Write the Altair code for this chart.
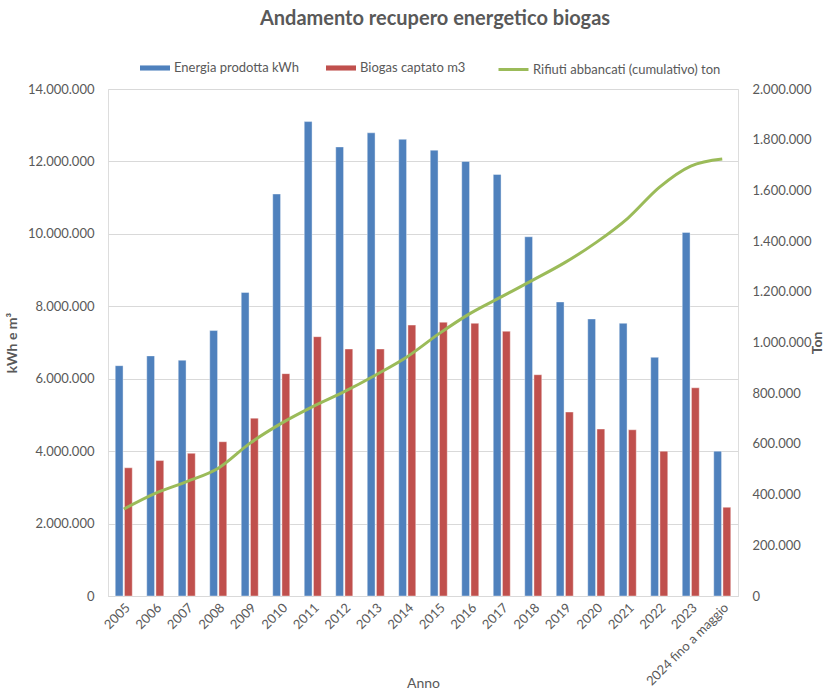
import altair as alt
import pandas as pd

anni = ["2005", "2006", "2007", "2008", "2009", "2010", "2011", "2012", "2013", "2014",
        "2015", "2016", "2017", "2018", "2019", "2020", "2021", "2022", "2023",
        "2024 fino a maggio"]
energia_kwh = [6360000, 6630000, 6510000, 7330000, 8380000, 11100000, 13100000, 12400000,
               12790000, 12610000, 12310000, 12000000, 11640000, 9920000, 8120000, 7650000,
               7530000, 6590000, 10040000, 4000000]
biogas_m3 = [3540000, 3740000, 3940000, 4260000, 4910000, 6140000, 7160000, 6820000,
             6820000, 7480000, 7560000, 7530000, 7310000, 6110000, 5080000, 4610000,
             4590000, 4000000, 5750000, 2450000]
rifiuti_ton = [343000, 405000, 451000, 504000, 602000, 681000, 747000, 806000, 872000,
               944000, 1034000, 1115000, 1181000, 1247000, 1315000, 1395000, 1490000,
               1612000, 1696000, 1724000]

S_EN = "Energia prodotta kWh"
S_BG = "Biogas captato m3"
S_RF = "Rifiuti abbancati (cumulativo) ton"

bars_df = pd.DataFrame(
    [{"anno": a, "serie": S_EN, "valore": v} for a, v in zip(anni, energia_kwh)]
    + [{"anno": a, "serie": S_BG, "valore": v} for a, v in zip(anni, biogas_m3)]
)
line_df = pd.DataFrame({"anno": anni, "serie": S_RF, "ton": rifiuti_ton})

FONT = "Lato"
GREY = "#595959"
GRID = "#d9d9d9"
label_expr = "replace(replace(format(datum.value, ','), ',', '.'), ',', '.')"

x_enc = alt.X(
    "anno:N", sort=anni,
    scale=alt.Scale(paddingInner=0.46, paddingOuter=0.23),
    axis=alt.Axis(
        title="Anno", labelAngle=-45, labelColor=GREY, labelFont=FONT, labelFontSize=13,
        labelPadding=5, ticks=False, domain=True, domainColor=GRID, grid=False,
        titleFont=FONT, titleFontSize=14, titleFontWeight="normal", titleColor=GREY,
        titleY=80, titleBaseline="top",
    ),
)

bars = alt.Chart(bars_df).mark_bar(stroke="white", strokeWidth=0.4).encode(
    x=x_enc,
    xOffset=alt.XOffset("serie:N", sort=[S_EN, S_BG], scale=alt.Scale(paddingInner=0.15)),
    y=alt.Y(
        "valore:Q",
        scale=alt.Scale(domain=[0, 14000000], nice=False),
        axis=alt.Axis(
            title="kWh e m³", values=[i * 2000000 for i in range(8)], labelExpr=label_expr,
            labelColor=GREY, labelFont=FONT, labelFontSize=13, labelPadding=14,
            ticks=False, domain=False, grid=True, gridColor=GRID,
            titleFont=FONT, titleFontSize=14, titleFontWeight="bold", titleColor=GREY,
            titlePadding=8,
        ),
    ),
    fill=alt.Fill(
        "serie:N", sort=[S_EN, S_BG],
        scale=alt.Scale(domain=[S_EN, S_BG], range=["#4F81BD", "#C0504D"]),
        legend=alt.Legend(
            orient="none", legendX=32, legendY=-36, direction="horizontal", title=None,
            symbolType="M-1,-0.17L1,-0.17L1,0.17L-1,0.17Z", symbolSize=900,
            symbolStrokeWidth=0, labelFont=FONT, labelFontSize=13, labelColor=GREY,
            columnPadding=26, labelOffset=4, labelLimit=300,
        ),
    ),
)

line = alt.Chart(line_df).mark_line(strokeWidth=3, interpolate="monotone").encode(
    x=alt.X("anno:N", sort=anni),
    y=alt.Y(
        "ton:Q",
        scale=alt.Scale(domain=[0, 2000000], nice=False),
        axis=alt.Axis(
            orient="right", title="Ton", values=[i * 200000 for i in range(11)],
            labelExpr=label_expr, labelColor=GREY, labelFont=FONT, labelFontSize=13,
            labelPadding=14, ticks=False, domain=False, grid=False,
            titleFont=FONT, titleFontSize=14, titleFontWeight="bold", titleColor=GREY,
            titleAngle=270, titleBaseline="top", titlePadding=0,
        ),
    ),
    stroke=alt.Stroke(
        "serie:N",
        scale=alt.Scale(domain=[S_RF], range=["#9BBB59"]),
        legend=alt.Legend(
            orient="none", legendX=389, legendY=-36, direction="horizontal", title=None,
            symbolType="stroke", symbolSize=900, symbolStrokeWidth=3,
            labelFont=FONT, labelFontSize=13, labelColor=GREY, labelOffset=3,
            labelLimit=300,
        ),
    ),
)

chart = (
    alt.layer(bars, line)
    .resolve_scale(y="independent")
    .properties(
        width=630, height=507,
        title=alt.TitleParams(
            text="Andamento recupero energetico biogas", font=FONT, fontSize=20,
            fontWeight="bold", color=GREY, anchor="middle", dx=12, offset=24,
        ),
        autosize=alt.AutoSizeParams(type="none"),
        padding={"left": 108, "top": 89, "right": 89, "bottom": 95},
    )
    .configure_view(stroke=None)
    .configure(background="white")
)

chart.save("out.html", embed_options={"renderer": "svg", "actions": False})
